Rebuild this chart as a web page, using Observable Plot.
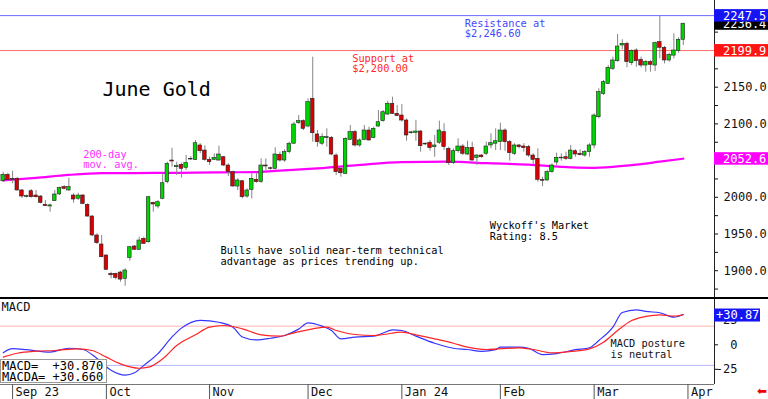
<!DOCTYPE html>
<html><head><meta charset="utf-8">
<script src="https://cdn.jsdelivr.net/npm/d3@7"></script>
<script src="https://cdn.jsdelivr.net/npm/@observablehq/plot@0.6"></script>
<style>
html,body{margin:0;padding:0;background:#fff;}
#wrap{position:relative;width:768px;height:399px;overflow:hidden;font-family:"DejaVu Sans Mono",monospace;}
#price{height:297px;}
#macd{border-top:2px solid #000;height:100px;}
svg{display:block;}
#mbox{position:absolute;left:0;top:359px;width:107px;height:24px;background:#fff;border:1px solid #999;
 font:12px/11px "DejaVu Sans Mono",monospace;white-space:pre;color:#000;padding:1px 0 0 1px;box-sizing:border-box;}
#arrow{position:absolute;left:757px;top:384px;color:#e00;font:12px "DejaVu Sans",sans-serif;}
</style></head><body>
<div id="wrap"><div id="price"></div><div id="macd"></div>
<div id="mbox">MACD=  +30.870
MACDA= +30.660</div><div id="arrow">⬅</div></div>
<script>
// ---- data (bar index 0 = Aug 30 2023 ... 145 = Mar 28 2024) ----
const opens = [2021.9,2030.6,2025,2025.2,2009.3,2000.5,2008.3,2002.4,2001,1989.8,
1987.5,1994.7,2004,2013.8,2009.3,2002.4,1998,2002.4,1989.8,1973.8,
1948,1935.7,1920.7,1895.7,1895.7,1897.5,1889,1917.5,1933,1928.5,
1943.4,1938.8,1992.5,1987.5,1998,2020.6,2050.1,2041,2044.2,2040.2,
2051.5,2051,2070.6,2063.7,2051,2051,2050.1,2054.6,2043.3,2034.2,
2014.7,2021.9,2001,2010.2,2023.8,2020.6,2043.3,2039.6,2038.8,2057.9,
2050.1,2061.5,2073,2101,2103.7,2096.4,2134.2,2085.6,2073,2080.6,
2081,2056.9,2038.8,2032,2078.3,2088.7,2070.6,2078.3,2091,2081,
2096.4,2103.7,2112.8,2127.4,2113.7,2111.4,2104.6,2087.3,2087.9,2089.6,
2073,2074.3,2068.3,2074.3,2088.7,2066,2046.5,2062.8,2069.2,2058.3,
2067.4,2053.8,2056.9,2059.3,2070.6,2073,2075.1,2091,2075.1,2059.3,
2070.6,2069.2,2068.3,2056.9,2052.4,2023.5,2022.9,2034.2,2047.4,2053,
2054.6,2052.4,2062.8,2059.3,2056.9,2061.5,2070.6,2109.1,2141,2154.6,
2175,2185.4,2206.8,2209.1,2182.7,2200,2187.3,2179.5,2184.1,2179.5,
2211.3,2203.7,2186.4,2193,2199.1,2214.6];
const highs = [2034.2,2032.8,2035.5,2027,2010.6,2003,2010.6,2009.3,2002.4,1995.6,
1990.5,2009.3,2013.8,2016,2026,2004.8,2005.6,2003.8,1991,1975.2,
1950.3,1947.9,1921.6,1898,1896.6,1899.3,1902.6,1933,1934.3,1945.6,
1945.6,2001,1993.3,1995.6,2032,2047.8,2066.9,2047.8,2046.5,2057,
2055.6,2077.4,2073,2070,2054.6,2059.3,2069.6,2055.6,2045.6,2035.5,
2025.2,2022.9,2011.6,2032,2032.8,2052.4,2052.4,2041,2067.4,2061.5,
2064.7,2075.1,2102.3,2111.4,2105.6,2134.2,2190.9,2091,2086.5,2093.3,
2082.8,2059.3,2041,2081,2097.8,2091,2079.7,2097.8,2095.5,2095.5,
2118.2,2118.2,2130.9,2136.4,2125,2126.4,2106.9,2090,2104.6,2091,
2074,2077.4,2084.2,2103.7,2100.1,2068.3,2066,2079.7,2072,2076.4,
2075.1,2058.3,2058.3,2075.1,2086.5,2093.3,2101,2093.3,2077.4,2073,
2072,2073,2070.6,2059.3,2066,2027.4,2036.5,2045.6,2060.1,2059.3,
2061.5,2070.6,2064.7,2064.7,2063.7,2073,2113.7,2147.8,2159.1,2179.5,
2190.9,2221.8,2214.6,2211.3,2200.9,2202.3,2190.9,2186.4,2186.4,2211.3,
2246.3,2205.4,2196.3,2222.7,2217.3,2237.2];
const lows = [2020.1,2021.9,2018.4,2008.3,1998.3,1999,1999,1999,1991,1987.5,
1979.7,1994.3,2002.4,2010.2,2008.3,1992,1995.6,1990,1972.9,1946.6,
1935.7,1917.5,1900.3,1888.9,1887.6,1884.3,1878.9,1912.9,1927.5,1927.5,
1935.7,1937.5,1979.7,1984.3,1996.6,2018.4,2041,2029.7,2026,2036.5,
2050.1,2050.1,2059.3,2049.2,2043.3,2050.1,2049.2,2042,2028.3,2013.8,
2009.3,1997.9,1999,1997.9,2019.2,2019.2,2036.5,2037,2037.4,2047.8,
2047.8,2059.3,2072,2099.2,2091,2094.7,2075.1,2068.3,2070.6,2068.3,
2056.9,2029.7,2027.4,2031,2077.4,2068.3,2068.3,2077.4,2076.4,2079.7,
2095.5,2102.3,2111.4,2112.8,2110,2102.3,2076.4,2086,2076.4,2061.5,
2070.5,2062.8,2054.6,2072,2063.7,2043.3,2044.6,2060.1,2056.9,2056.9,
2049.2,2043.3,2053.3,2056.9,2066,2063.7,2063.7,2062.8,2049.2,2056.9,
2066,2061.5,2054.6,2044.6,2020.6,2014.7,2021.9,2032.8,2043.3,2049.2,
2050.1,2051,2054.6,2056.5,2054.6,2054.6,2066,2106.9,2138.7,2153.7,
2172.7,2184.1,2200.9,2176.4,2179.5,2177.2,2176.4,2170.4,2170.4,2171.4,
2188.6,2181.8,2184.1,2188.6,2196.3,2206.8];
const closes = [2030.6,2023.8,2024,2009.3,2001.1,2001.5,2000.1,2000.1,1992.5,1987.9,
1989,2003.8,2012.4,2011.6,2013.8,1997,2002.4,1991.1,1973.8,1948,
1937.5,1918.4,1901.2,1893.8,1890.3,1887.9,1900.3,1932,1928.5,1941.1,
1936.6,2000.1,1990.2,1993.3,2019.2,2045.6,2048.8,2042.4,2038.8,2046.5,
2052.4,2073.7,2062.8,2051,2047.8,2053.8,2058.3,2043.3,2034.2,2014.7,
2022.9,2000.1,2009.3,2025.2,2020.6,2043.3,2042,2038.8,2058.3,2050.1,
2061.5,2073,2099.2,2103.7,2093.3,2129.6,2087.3,2075.1,2081.9,2081.9,
2058.3,2034.2,2032.8,2079.7,2088.7,2070.6,2077.4,2091,2077.4,2093.3,
2102.3,2115.9,2127.4,2113.7,2111,2104.6,2084.2,2088.5,2089.6,2069.6,
2072,2067,2070.6,2091,2068.3,2046.5,2062.8,2069.2,2059.3,2067,
2050.1,2056.9,2054.6,2069.2,2073.7,2076.4,2091,2075.1,2060.1,2070.6,
2068.3,2067,2056.9,2051,2023.8,2022.5,2034.2,2043.3,2053.8,2054,
2052.4,2063.7,2058.3,2057.4,2061.5,2070.6,2111.4,2143.2,2156.8,2176.4,
2186.4,2205.4,2209.1,2184.1,2199.1,2185.4,2179.5,2184.1,2180.5,2210,
2203.7,2186.4,2194.1,2200,2214.6,2236.4];

const maIdx = [0,7,14,21,28,38,46,54,58,66,75,85,95,103,112,119,125,130,135,140,145];
const maVal = [2023,2026.5,2030.5,2032.8,2033,2033.4,2034,2034.2,2036,2039,2043.5,2048,2048.5,2046.5,2044.5,2041.5,2040.2,2041.5,2044.5,2048.5,2052.6];

const macdIdx = [0,2,5,10,14,17,20,23,26,28,30,33,36,38,42,46,49,51,54,57,60,63,65,68,70,72,75,79,81,83,85,88,92,96,99,102,105,106,110,112,115,118,122,125,127,130,132,135,137,140,143,145];
const macdVal = [-8,-4,-5,-7.5,-3.5,-4.8,-14,-26,-31,-28.6,-21,-9,8,17,25,23,18,8,5,6.7,9.5,16,22.4,19,14.6,6,7.8,8.8,12,15.3,14.6,8.8,1.6,-3.5,-4.8,-6.8,-5,-2.4,-2.4,-3.5,-10,-9,-5,-3,4.4,18,33,35.7,34,32.7,28.2,30.87];
const sigIdx = [0,3,7,11,16,19,22,25,29,31,34,37,41,44,47,51,55,59,62,66,69,71,75,79,81,85,88,92,96,99,103,110,113,117,121,125,128,131,134,137,140,143,145];
const sigVal = [-12.6,-8.6,-6.5,-5.8,-4.1,-5.8,-12.6,-19.4,-23.9,-22.8,-14.3,-0.7,10.2,18,19.7,16.3,10.2,8.8,12.2,16.3,18,14.6,10.5,9.5,10.5,12.9,10.2,6.1,1.6,-2.4,-4.8,-3.1,-4.8,-8.2,-6.8,-4.1,2.7,14.6,24.8,28.9,30.6,29.2,30.66];

const monthTickIdx = [2,22,44,65,85,106,126,146];
const monthLabels = ["Sep 23","Oct","Nov","Dec","Jan 24","Feb","Mar","Apr"];
const priceMinorTicks = [1875,1900,1925,1950,1975,2000,2025,2050,2075,2100,2125,2150,2175,2200,2225,2250];
const priceLabelTicks = [1900,1950,2000,2100,2150];
const macdTickMarks = [-25,0,25];
const macdTickLabels = [-25,0,25];
const resistance = 2247.5, support = 2199.9, lastPrice = 2236.4, ma200Last = 2052.6;
const macdLast = 30.87;
const macdUpper = 19, macdLower = -21;

// ---- charts ----
const xDomain = [-0.576, 151.66];
const priceDomain = [1863.5, 2268.1];
const macdDomain = [-40.5, 46.2];
const mono = "DejaVu Sans Mono, monospace";

const bars = opens.map((o, i) => ({i, o, h: highs[i], l: lows[i], c: closes[i]}));
const ma = maIdx.map((i, k) => ({i, v: maVal[k]}));
const macdPts = macdIdx.map((i, k) => ({i, v: macdVal[k]}));
const sigPts = sigIdx.map((i, k) => ({i, v: sigVal[k]}));

const priceNotes = [
  {t: "June Gold", i: 21.17, p: 2146.4, c: "#000", s: 20},
  {t: "Resistance at", i: 98.42, p: 2236.4, c: "#4646ff", s: 10.3},
  {t: "$2,246.60", i: 98.42, p: 2222.7, c: "#4646ff", s: 10.3},
  {t: "Support at", i: 74.41, p: 2188.7, c: "#ff2a2a", s: 10.3},
  {t: "$2,200.00", i: 74.41, p: 2175.1, c: "#ff2a2a", s: 10.3},
  {t: "200-day", i: 17.06, p: 2057.9, c: "#ff30ff", s: 10.3},
  {t: "mov. avg.", i: 17.06, p: 2044.3, c: "#ff30ff", s: 10.3},
  {t: "Bulls have solid near-term technical", i: 46.33, p: 1926.6, c: "#000", s: 10.3},
  {t: "advantage as prices trending up.", i: 46.33, p: 1911.6, c: "#000", s: 10.3},
  {t: "Wyckoff's Market", i: 103.75, p: 1961.6, c: "#000", s: 10.3},
  {t: "Rating: 8.5", i: 103.75, p: 1947, c: "#000", s: 10.3}
];

const price = Plot.plot({
  width: 768, height: 297, marginLeft: 0, marginRight: 54, marginTop: 0, marginBottom: 0,
  style: {fontFamily: mono, fontSize: "12px", color: "#111", background: "#fff"},
  x: {domain: xDomain, axis: null},
  y: {domain: priceDomain},
  marks: [
    Plot.ruleY([resistance], {stroke: "#6a6aff"}),
    Plot.ruleY([support], {stroke: "#ff6a6a"}),
    Plot.line(ma, {x: "i", y: "v", stroke: "#ff00ff", strokeWidth: 2.2, curve: "monotone-x"}),
    Plot.ruleX(bars, {x: "i", y1: "l", y2: "h", stroke: "#858585"}),
    Plot.rect(bars, {x1: d => d.i - 0.38, x2: d => d.i + 0.38, y1: "o", y2: "c",
      fill: d => d.c >= d.o ? "#00d400" : "#d80000", stroke: "#222", strokeWidth: 0.6}),
    Plot.ruleX([xDomain[1]], {stroke: "#222"}),
    Plot.axisY({anchor: "right", ticks: priceMinorTicks, tickSize: 3, tickFormat: () => "", label: null}),
    Plot.axisY({anchor: "right", ticks: priceLabelTicks, tickSize: 0, tickPadding: 9,
      tickFormat: d => d.toFixed(1), label: null, fill: "#111"}),
    Plot.text(priceNotes, {x: "i", y: "p", text: "t", fill: "c", fontSize: "s",
      textAnchor: "start", lineAnchor: "middle", fontFamily: mono})
  ]
});
document.getElementById("price").appendChild(price);

// value boxes in the right gutter, placed with the chart's own y scale
{
  const ys = price.scale("y");
  const svg = d3.select(price);
  const boxes = [
    {v: lastPrice, bg: "#000"},
    {v: resistance, bg: "#1414f5"},
    {v: support, bg: "#ff1414"},
    {v: ma200Last, bg: "#ff00ff"}
  ];
  const g = svg.append("g").attr("text-anchor", "start");
  for (const b of boxes) {
    const y = ys.apply(b.v);
    g.append("rect").attr("x", 714).attr("y", y - 6).attr("width", 54).attr("height", 12.5).attr("fill", b.bg);
    g.append("text").attr("x", 723).attr("y", y).attr("dy", "0.38em").attr("fill", "#fff")
      .attr("text-anchor", "start").style("font", "12px " + mono).text(b.v.toFixed(1));
  }
}

const macd = Plot.plot({
  width: 768, height: 100, marginLeft: 0, marginRight: 54, marginTop: 0, marginBottom: 15,
  style: {fontFamily: mono, fontSize: "12px", color: "#111", background: "#fff"},
  x: {domain: xDomain},
  y: {domain: macdDomain},
  marks: [
    Plot.ruleY([macdUpper], {stroke: "#ffb4b4"}),
    Plot.ruleY([macdLower], {stroke: "#b4b4ff"}),
    Plot.line(macdPts, {x: "i", y: "v", stroke: "#3535ff", strokeWidth: 1.2, curve: "monotone-x"}),
    Plot.line(sigPts, {x: "i", y: "v", stroke: "#ff2424", strokeWidth: 1.2, curve: "monotone-x"}),
    Plot.ruleY([macdDomain[0]], {stroke: "#777"}),
    Plot.ruleX([xDomain[1]], {stroke: "#222"}),
    Plot.axisY({anchor: "right", ticks: macdTickMarks, tickSize: 3, tickFormat: () => "", label: null}),
    Plot.axisY({anchor: "right", ticks: macdTickLabels, tickSize: 0, tickPadding: 23, textAnchor: "end",
      tickFormat: d => String(d), label: null}),
    Plot.axisX({anchor: "bottom", ticks: monthTickIdx, tickSize: 15, tickFormat: () => "", label: null, stroke: "#555"}),
    Plot.text(monthTickIdx, {x: d => d, text: (d, k) => monthLabels[k], frameAnchor: "bottom",
      dy: 8, dx: 3, textAnchor: "start", lineAnchor: "middle", fontFamily: mono, fontSize: 12}),
    Plot.text(["MACD"], {frameAnchor: "top-left", dx: 1, dy: 8, textAnchor: "start", lineAnchor: "middle",
      fontFamily: mono, fontSize: 12}),
    Plot.text([{t: "MACD posture", i: 129.49, v: 1.0}, {t: "is neutral", i: 129.49, v: -10.2}],
      {x: "i", y: "v", text: "t", textAnchor: "start", lineAnchor: "middle", fontFamily: mono, fontSize: 10.3})
  ]
});
document.getElementById("macd").appendChild(macd);
{
  const ys = macd.scale("y");
  const svg = d3.select(macd);
  const y = ys.apply(macdLast);
  const g = svg.append("g").attr("text-anchor", "start");
  g.append("rect").attr("x", 714).attr("y", y - 5.5).attr("width", 46).attr("height", 13).attr("fill", "#1414f5");
  g.append("text").attr("x", 716).attr("y", y + 1).attr("dy", "0.36em").attr("fill", "#fff")
    .attr("text-anchor", "start").style("font", "12px " + mono).text("+" + macdLast.toFixed(2));
}
</script></body></html>
